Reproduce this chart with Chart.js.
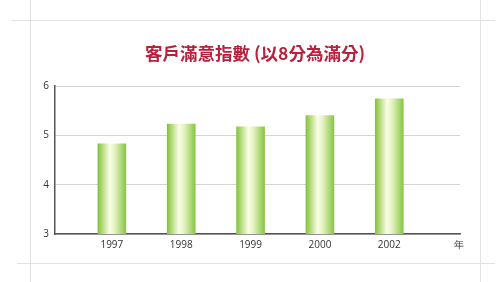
<!DOCTYPE html>
<html>
<head>
<meta charset="utf-8">
<script src="https://cdn.jsdelivr.net/npm/chart.js@4"></script>
<style>
    html, body { margin: 0; padding: 0; background: #fff; }
    #wrap { position: relative; width: 500px; height: 282px; overflow: hidden; }
    .mark { position: absolute; background: #e2e2e2; }
    canvas { position: absolute; left: 0; top: 0; }
</style>
</head>
<body>
<div id="wrap">
    <div class="mark" style="left:30px; top:0; width:1px; height:282px;"></div>
    <div class="mark" style="left:480px; top:0; width:1px; height:282px;"></div>
    <div class="mark" style="left:12px; top:20px; width:483px; height:1px;"></div>
    <div class="mark" style="left:17px; top:263px; width:478px; height:1px;"></div>
    <canvas id="chart" width="500" height="282"></canvas>
</div>
<script>
const years = ['1997', '1998', '1999', '2000', '2002'];
const scores = [4.83, 5.23, 5.17, 5.4, 5.74];
const unitLabel = '年';
const yTicks = [3, 4, 5, 6];

const points = years.map((year, i) => ({ x: i + 1, y: scores[i] }));

function barGradient(context) {
    const chart = context.chart;
    const xs = chart.scales && chart.scales.x;
    if (!xs || !context.raw) return '#8cc63f';
    const cx = xs.getPixelForValue(context.raw.x);
    if (!isFinite(cx)) return '#8cc63f';
    const g = chart.ctx.createLinearGradient(cx - 14, 0, cx + 14, 0);
    g.addColorStop(0, '#84c33e');
    g.addColorStop(0.2, '#bfe08a');
    g.addColorStop(0.42, '#fbfde8');
    g.addColorStop(0.6, '#e4f2c0');
    g.addColorStop(1, '#88c645');
    return g;
}

// nudge the title a bit to the right, like in the reference
const titleShift = {
    id: 'titleShift',
    afterLayout(chart) {
        const t = chart.titleBlock;
        if (t) { t.left += 11; t.right += 11; }
    }
};

new Chart(document.getElementById('chart').getContext('2d'), {
    type: 'bar',
    data: {
        datasets: [{
            data: points,
            backgroundColor: barGradient,
            borderWidth: 0,
            barThickness: 28
        }]
    },
    options: {
        responsive: false,
        animation: false,
        layout: {
            padding: { top: 28, left: 28, right: 40, bottom: 26 }
        },
        plugins: {
            legend: { display: false },
            tooltip: { enabled: false },
            title: {
                display: true,
                text: '客戶滿意指數 (以8分為滿分)',
                color: '#b8213b',
                font: { family: '"Noto Sans CJK TC", "Noto Sans", sans-serif', size: 17.5, weight: 'bold' },
                padding: { top: 15, bottom: 22 }
            }
        },
        scales: {
            x: {
                type: 'linear',
                offset: false,
                min: 0.18,
                max: 6.02,
                grid: { display: false, drawTicks: false, offset: false },
                border: { color: '#555', width: 1.5 },
                ticks: {
                    stepSize: 1,
                    includeBounds: false,
                    padding: 5,
                    color: '#333',
                    font: { family: '"Open Sans", sans-serif', size: 10 },
                    callback: v => (v >= 1 && v <= years.length) ? years[v - 1] : (v === years.length + 1 ? unitLabel : '')
                }
            },
            y: {
                min: yTicks[0],
                max: yTicks[yTicks.length - 1],
                afterFit: scale => { scale.width = 27; },
                grid: { color: '#d4d4d4', lineWidth: 1, drawTicks: false },
                border: { color: '#555', width: 1.5 },
                ticks: {
                    stepSize: 1,
                    padding: 6,
                    color: '#333',
                    font: { family: '"Open Sans", sans-serif', size: 10 }
                }
            }
        }
    },
    plugins: [titleShift]
});
</script>
</body>
</html>
